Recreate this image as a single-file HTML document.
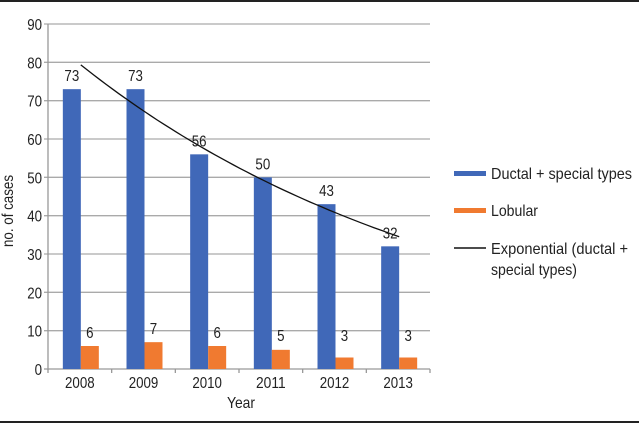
<!DOCTYPE html>
<html><head><meta charset="utf-8"><style>
body{margin:0;background:#fff}
svg{display:block;font-family:"Liberation Sans Narrow","Liberation Sans",sans-serif}
</style></head><body>
<svg id="chart" width="639" height="423">
<rect x="0" y="0" width="639" height="2" fill="#222"/>
<rect x="0" y="421" width="639" height="2" fill="#222"/>
<g id="grid"></g><g id="bars"></g><g id="labels"></g>
<text x="241" y="408" font-size="16" text-anchor="middle" textLength="28" lengthAdjust="spacingAndGlyphs" fill="#222">Year</text>
<text transform="translate(13,211) rotate(-90)" font-size="16" text-anchor="middle" textLength="72" lengthAdjust="spacingAndGlyphs" fill="#222">no. of cases</text>
<g>
<rect x="454" y="171" width="32" height="5" fill="#4068b8"/>
<text x="491" y="179" font-size="16" textLength="141" lengthAdjust="spacingAndGlyphs" fill="#222">Ductal + special types</text>
<rect x="454" y="208" width="32" height="5" fill="#f07a30"/>
<text x="491" y="216" font-size="16" fill="#222" textLength="47" lengthAdjust="spacingAndGlyphs">Lobular</text>
<line x1="454" y1="248" x2="486" y2="248" stroke="#111" stroke-width="1.5"/>
<text x="491" y="254" font-size="16" fill="#222" textLength="137" lengthAdjust="spacingAndGlyphs">Exponential (ductal +</text>
<text x="491" y="275" font-size="16" fill="#222" textLength="86" lengthAdjust="spacingAndGlyphs">special types)</text>
</g>
<path id="trend" fill="none" stroke="#111" stroke-width="1.3"/>
</svg>
<script>
const categories=["2008","2009","2010","2011","2012","2013"];
const ductal=[73,73,56,50,43,32];
const lobular=[6,7,6,5,3,3];
const yTicks=[0,10,20,30,40,50,60,70,80,90];
const NS="http://www.w3.org/2000/svg";
const x0=48,x1=430,y0=369,y90=24;
const cw=(x1-x0)/categories.length;
const y=v=>y0-(v/90)*(y0-y90);
const cx=i=>x0+cw*(i+0.5);
function mk(tag,attrs,parent,text){const e=document.createElementNS(NS,tag);for(const k in attrs)e.setAttribute(k,attrs[k]);if(text!==undefined){e.textContent=text;e.setAttribute('textLength',text.length*7.4);e.setAttribute('lengthAdjust','spacingAndGlyphs');}parent.appendChild(e);return e;}
const grid=document.getElementById('grid'),bars=document.getElementById('bars'),labels=document.getElementById('labels');
yTicks.forEach(t=>{
 const l=mk('line',{x1:x0-4,x2:x1,y1:y(t),y2:y(t),stroke:t===0?'#999':'#aaa','stroke-width':1.3},grid);
 
 
 const tx=mk('text',{x:x0-6,y:y(t)+6,'font-size':16,'text-anchor':'end',fill:'#222'},grid,String(t));
 
 
});
const ax=mk('line',{x1:x0,x2:x0,y1:y90,y2:y0+1,stroke:'#999','stroke-width':1.3},grid);


for(let i=0;i<=categories.length;i++){
 const tk=mk('line',{x1:x0+cw*i,x2:x0+cw*i,y1:y0,y2:y0+4,stroke:'#999','stroke-width':1.3},grid);
 
 
}
categories.forEach((c,i)=>{
 const c0=cx(i);
 const b=mk('rect',{x:c0-17,y:y(ductal[i]),width:18,height:y0-y(ductal[i]),fill:'#4068b8'},bars);
 
 
 const o=mk('rect',{x:c0+1,y:y(lobular[i]),width:18,height:y0-y(lobular[i]),fill:'#f07a30'},bars);
 
 
 const lb=mk('text',{x:c0-8,y:y(ductal[i])-8,'font-size':16,'text-anchor':'middle',fill:'#222'},labels,String(ductal[i]));
 
 
 const ll=mk('text',{x:c0+10,y:Math.min(y(lobular[i])-8,y0-28),'font-size':16,'text-anchor':'middle',fill:'#222'},labels,String(lobular[i]));
 
 
 const xl=mk('text',{x:c0,y:y0+19,'font-size':16,'text-anchor':'middle',fill:'#222'},labels,c);
 
 
});
const n=ductal.length,lx=ductal.map(Math.log);
const mx=(n-1)/2,my=lx.reduce((a,b)=>a+b,0)/n;
let sxy=0,sxx=0;lx.forEach((v,i)=>{sxy+=(i-mx)*(v-my);sxx+=(i-mx)*(i-mx);});
const bb=sxy/sxx,aa=my-bb*mx;
let d='';for(let k=0;k<=50;k++){const t=(n-1)*k/50;const px=cx(t)+1,py=y(Math.exp(aa+bb*t));d+=(k?'L':'M')+px.toFixed(1)+','+py.toFixed(1);}
document.getElementById('trend').setAttribute('d',d);
</script>
</body></html>
